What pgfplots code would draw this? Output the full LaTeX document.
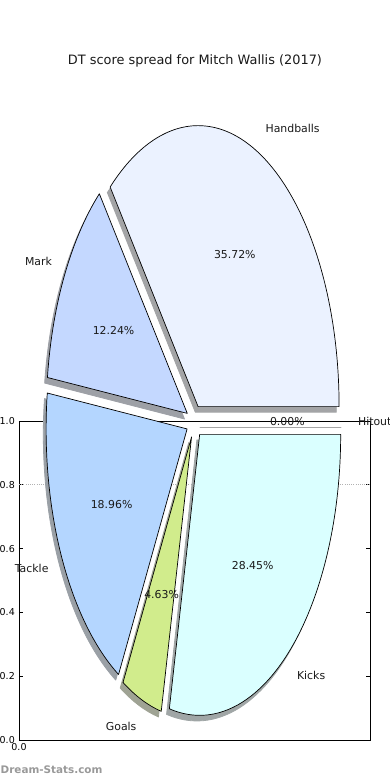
\documentclass[border=0pt]{standalone}
\usepackage{pgfplots}
\pgfplotsset{compat=1.18}
\usepackage{fontspec}
\setmainfont{DejaVu Sans}
\newcommand\lbl{\fontsize{10.9}{13}\selectfont}
\definecolor{cHand}{HTML}{EBF2FF}
\definecolor{cMark}{HTML}{C4D8FF}
\definecolor{cTack}{HTML}{B4D6FF}
\definecolor{cGoal}{HTML}{D1EC8C}
\definecolor{cKick}{HTML}{DAFFFF}
\definecolor{cHit}{HTML}{FFFFFF}
% pie geometry (pt): centre, radii, explode offset, shadow offset
% #1 cumulative start (%), #2 share (%), #3 colour
\newcommand\pieshadow[3]{%
  \filldraw[fill=#3!30!black!50!white, draw=#3!30!black!50!white, line width=0.8pt, line join=round]
    (axis cs:194.5,358.5) ++({(8.28*cos(3.6*(#1+#2/2))-2.8)*1pt},{(16.5*sin(3.6*(#1+#2/2))-5.6)*1pt})
    -- ++({141*cos(3.6*#1)*1pt},{281*sin(3.6*#1)*1pt})
    arc[start angle={3.6*#1}, end angle={3.6*(#1+#2)}, x radius=141pt, y radius=281pt] -- cycle;}
\newcommand\piewedge[3]{%
  \filldraw[fill=#3, draw=black, line width=0.7pt, line join=round]
    (axis cs:194.5,358.5) ++({8.28*cos(3.6*(#1+#2/2))*1pt},{16.5*sin(3.6*(#1+#2/2))*1pt})
    -- ++({141*cos(3.6*#1)*1pt},{281*sin(3.6*#1)*1pt})
    arc[start angle={3.6*#1}, end angle={3.6*(#1+#2)}, x radius=141pt, y radius=281pt] -- cycle;}
% #1 cum, #2 share, #3 distance factor, #4 anchor, #5 text
\newcommand\pielabel[5]{%
  \path (axis cs:194.5,358.5) ++({141*#3*cos(3.6*(#1+#2/2))*1pt},{281*#3*sin(3.6*(#1+#2/2))*1pt})
    node[anchor=#4, inner sep=0pt, font=\lbl, text=black!90] {#5};}
\begin{document}
\begin{tikzpicture}
% frame axis
\begin{axis}[
  at={(19pt,40pt)}, anchor=south west,
  scale only axis, width=351pt, height=319pt,
  xmin=0, xmax=1, ymin=0, ymax=1,
  xtick={0}, xticklabels={0.0},
  ytick={0,0.2,0.4,0.6,0.8,1.0},
  yticklabel style={/pgf/number format/.cd, fixed, fixed zerofill, precision=1},
  /pgf/number format/assume math mode=true,
  tick align=inside, major tick length=4pt,
  tick style={black, line width=0.6pt},
  axis line style={line width=0.8pt},
  ticklabel style={font=\fontsize{9.5}{11}\selectfont, inner sep=0pt},
  yticklabel shift=4pt, xticklabel shift=3pt,
  clip=false,
]
\addplot[gray!60, line width=0.7pt, dash pattern=on 1pt off 1.2pt] coordinates {(0,0.8) (1,0.8)};
\end{axis}
% pie axis (1 unit = 1pt)
\begin{axis}[
  at={(0pt,0pt)}, anchor=south west,
  scale only axis, width=390pt, height=780pt,
  xmin=0, xmax=390, ymin=0, ymax=780,
  hide axis, clip=false, disabledatascaling,
]
% shadows first
\pieshadow{0}{35.72}{cHand}
\pieshadow{35.72}{12.24}{cMark}
\pieshadow{47.96}{18.96}{cTack}
\pieshadow{66.92}{4.63}{cGoal}
\pieshadow{71.55}{28.45}{cKick}
\pieshadow{100}{0}{cHit}
% wedges
\piewedge{0}{35.72}{cHand}
\piewedge{35.72}{12.24}{cMark}
\piewedge{47.96}{18.96}{cTack}
\piewedge{66.92}{4.63}{cGoal}
\piewedge{71.55}{28.45}{cKick}
\piewedge{100}{0}{cHit}
% labels
\pielabel{0}{35.72}{1.1587}{west}{Handballs}
\pielabel{35.72}{12.24}{1.1587}{east}{Mark}
\pielabel{47.96}{18.96}{1.1587}{east}{Tackle}
\pielabel{66.92}{4.63}{1.1587}{east}{Goals}
\pielabel{71.55}{28.45}{1.1587}{west}{Kicks}
\pielabel{100}{0}{1.1587}{west}{Hitout}
% percentages
\pielabel{0}{35.72}{0.6587}{center}{35.72\%}
\pielabel{35.72}{12.24}{0.6587}{center}{12.24\%}
\pielabel{47.96}{18.96}{0.6587}{center}{18.96\%}
\pielabel{66.92}{4.63}{0.6587}{center}{4.63\%}
\pielabel{71.55}{28.45}{0.6587}{center}{28.45\%}
\pielabel{100}{0}{0.6587}{center}{0.00\%}
% title and watermark
\node[font=\fontsize{12.9}{15}\selectfont, text=black!90, inner sep=0pt] at (axis cs:195,719) {DT score spread for Mitch Wallis (2017)};
\node[font=\fontsize{10.4}{12}\selectfont\bfseries, text=black!40, anchor=west, inner sep=0pt] at (axis cs:0.5,10) {Dream-Stats.com};
\end{axis}
\pgfresetboundingbox
\useasboundingbox (0pt,0pt) rectangle (390pt,780pt);
\end{tikzpicture}
\end{document}
